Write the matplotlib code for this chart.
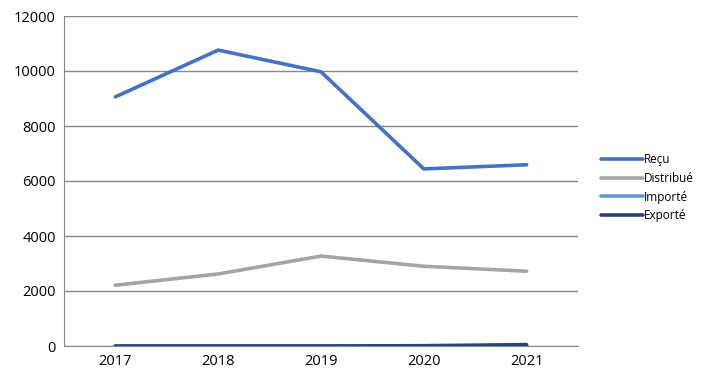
import matplotlib
matplotlib.use("Agg")
import matplotlib.pyplot as plt

years = ["2017", "2018", "2019", "2020", "2021"]
recu = [9060, 10760, 9970, 6440, 6590]
distribue = [2210, 2620, 3270, 2900, 2720]
importe = [0, 0, 0, 0, 10]
exporte = [0, 0, 0, 10, 50]

plt.rcParams['font.family'] = ['Open Sans', 'DejaVu Sans']

fig = plt.figure(figsize=(7.02, 3.75), dpi=100)
ax = fig.add_axes([64/702, 29/375, 514/702, 330/375])

x = list(range(len(years)))
ax.plot(x, recu, color="#4472C4", lw=2.6, label="Reçu", solid_capstyle="round")
ax.plot(x, distribue, color="#A5A5A5", lw=2.6, label="Distribué", solid_capstyle="round")
ax.plot(x, importe, color="#5B9BD5", lw=2.6, label="Importé", solid_capstyle="round")
ax.plot(x, exporte, color="#264478", lw=2.6, label="Exporté", solid_capstyle="round")

ax.set_xlim(-0.5, len(years) - 0.5)
ax.set_ylim(0, 12000)
ax.set_yticks(range(0, 12001, 2000))
ax.set_xticks(x)
ax.set_xticklabels(years)
ax.yaxis.grid(True, color="#888888", lw=1)
ax.set_axisbelow(True)
for s in ["top", "right"]:
    ax.spines[s].set_visible(False)
ax.spines["left"].set_color("#888888")
ax.spines["bottom"].set_color("#888888")
ax.tick_params(length=0, labelsize=10.5, pad=6, colors="black")

ax.legend(loc="center left", bbox_to_anchor=((590 - 64) / 514, 0.48), frameon=False,
          fontsize=8.5, handlelength=3.6, handletextpad=0.1, labelspacing=0.5)

fig.savefig("out.png", dpi=100)
